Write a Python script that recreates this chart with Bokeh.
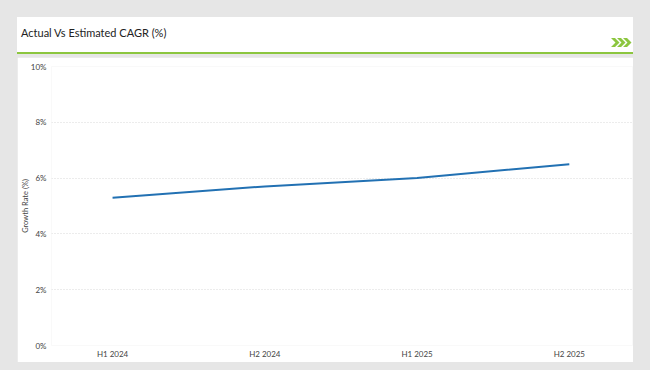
from bokeh.plotting import figure
from bokeh.models import Div, FixedTicker, GlobalInlineStyleSheet, ColumnDataSource
from bokeh.layouts import column
from bokeh.embed import file_html
from bokeh.resources import INLINE

# ---- data ----
periods = ["H1 2024", "H2 2024", "H1 2025", "H2 2025"]
growth = [5.3, 5.7, 6.0, 6.5]
y_ticks = [0, 2, 4, 6, 8, 10]
y_tick_labels = ["0%", "2%", "4%", "6%", "8%", "10%"]
title_text = "Actual Vs Estimated CAGR (%)"
y_label = "Growth Rate (%)"

FONT = "Lato"
PAGE_BG = "#e6e6e6"
GREEN = "#8cc63f"
LINE = "#2271b3"

xs = list(range(len(periods)))
src = ColumnDataSource(dict(x=xs, y=growth, period=periods))

chev = "".join(
    f'<polygon points="{o},0 {o+4},0 {o+8.5},4.5 {o+4},9 {o},9 {o+4.5},4.5" fill="{GREEN}"/>'
    for o in (0, 6, 12)
)
header_html = (
    f'<div style="position:relative;width:616px;height:37px;margin:0;padding:0;">'
    f'<div style="position:absolute;left:0;top:0;width:616px;height:35px;background:#ffffff;"></div>'
    f'<div style="position:absolute;left:0;top:35px;width:616px;height:2px;background:{GREEN};"></div>'
    f'<span style="position:absolute;left:4px;top:9px;font-family:{FONT};font-size:11px;'
    f'color:#222222;white-space:nowrap;line-height:14px;">{title_text}</span>'
    f'<svg style="position:absolute;left:594px;top:21px;" width="22" height="10">{chev}</svg>'
    f'</div>'
)
header = Div(text=header_html, width=616, height=37, margin=(17, 0, 0, 17))

p = figure(
    width=616, height=305, output_backend="svg", toolbar_location=None,
    x_range=(-0.401, 3.415), y_range=(0, 10),
    min_border_left=20, min_border_right=1, min_border_top=9, min_border_bottom=17,
    background_fill_color="#ffffff", border_fill_color="#ffffff",
    margin=(3, 0, 0, 17),
)
p.outline_line_color = None

p.line("x", "y", source=src, line_color=LINE, line_width=2)

p.xaxis.ticker = FixedTicker(ticks=xs)
p.xaxis.major_label_overrides = {i: lab for i, lab in zip(xs, periods)}
p.yaxis.ticker = FixedTicker(ticks=y_ticks)
p.yaxis.major_label_overrides = {t: lab for t, lab in zip(y_ticks, y_tick_labels)}
p.yaxis.axis_label = y_label

for ax in (p.xaxis, p.yaxis):
    ax.axis_line_color = None
    ax.major_tick_line_color = None
    ax.minor_tick_line_color = None
    ax.major_tick_out = 0
    ax.major_tick_in = 0
    ax.major_label_text_font = FONT
    ax.major_label_text_font_size = "8px"
    ax.major_label_text_color = "#444444"
p.xaxis.major_label_standoff = 3
p.yaxis.major_label_standoff = 5
p.yaxis.axis_label_text_font = FONT
p.yaxis.axis_label_text_font_size = "7.5px"
p.yaxis.axis_label_text_font_style = "normal"
p.yaxis.axis_label_text_color = "#444444"
p.yaxis.axis_label_standoff = -2

p.xgrid.visible = False
p.ygrid.grid_line_color = "#d9d9d9"
p.ygrid.grid_line_dash = "1 2"
p.ygrid.grid_line_width = 1

root = column(header, p, spacing=0, styles={"background-color": PAGE_BG})
root.stylesheets = [GlobalInlineStyleSheet(css=f"html, body {{ background-color: {PAGE_BG}; }}")]

open("out.html", "w").write(file_html(root, INLINE))
